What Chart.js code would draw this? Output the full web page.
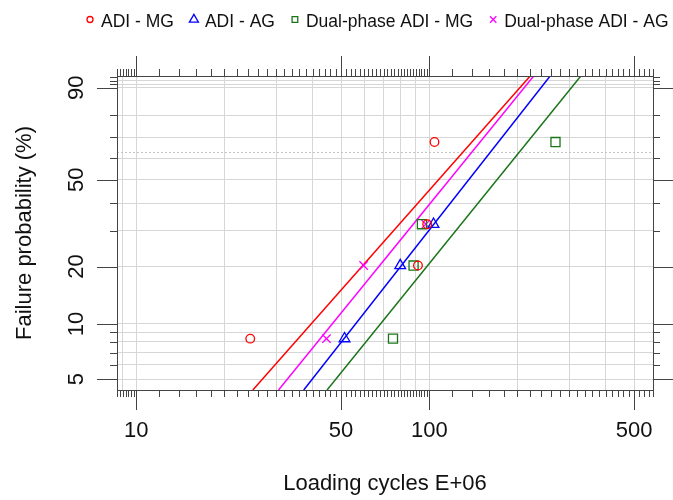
<!DOCTYPE html>
<html>
<head>
<meta charset="utf-8">
<script src="https://cdn.jsdelivr.net/npm/chart.js@4.4.0/dist/chart.umd.min.js"></script>
<style>
  html, body { margin: 0; padding: 0; background: #fff; }
</style>
</head>
<body>
<canvas id="myChart" width="673" height="500"></canvas>
<script>
// series as shown in the legend
const seriesNames = ['ADI - MG', 'ADI - AG', 'Dual-phase ADI - MG', 'Dual-phase ADI - AG'];
const seriesColors = ['#ff0000', '#0000ff', '#1a751a', '#ff00ff'];
const seriesMarkers = ['circle', 'triangle', 'rect', 'crossRot'];

// observed failures: loading cycles (E+06) and failure probability (%)
const adiMgCycles = [24.5, 91.5, 98.4, 104.2];
const adiMgProbs = [8.33, 20.24, 32.14, 67.86];
const adiAgCycles = [51.4, 79.6, 103.4];
const adiAgProbs = [8.33, 20.24, 32.14];
const dualMgCycles = [75.2, 88.4, 94.4, 269.6];
const dualMgProbs = [8.33, 20.24, 32.14, 67.86];
const dualAgCycles = [44.6, 59.7, 97.3];
const dualAgProbs = [8.33, 20.24, 32.14];

// fitted Weibull lines, cycles at the bottom and top of the plot
const lineProbs = [4.35, 93.2];
const adiMgLine = [25.0, 221];
const adiAgLine = [37.3, 258.5];
const dualMgLine = [44.8, 329];
const dualAgLine = [30.6, 227.2];

// axes
const xRange = [8.6, 580];
const yRange = [4.35, 93.2];
const xMajor = [10, 50, 100, 500];
const xGrid = [9, 10, 20, 30, 40, 50, 60, 70, 80, 90, 100, 200, 300, 400, 500];
const yMajor = [5, 10, 20, 50, 90];
const yGrid = [5, 6, 7, 8, 9, 10, 20, 30, 40, 50, 60, 70, 80, 90, 91, 92, 93];

const FONT = "'Liberation Sans', Arial, sans-serif";
const TEXT = '#111';

function weib(p) {
    return Math.log(-Math.log(1 - p / 100));
}

function toPoints(xs, ps) {
    return xs.map((x, i) => ({ x: x, y: weib(ps[i]) }));
}

function steps(from, to, step) {
    const out = [];
    for (let v = from; v <= to + 1e-9; v += step) out.push(Math.round(v * 100) / 100);
    return out;
}

// minor tick marks along the log axis
const xMinor = [].concat(steps(8.6, 9.8, 0.2), steps(12, 98, 2), steps(120, 580, 20))
    .filter(v => !xMajor.includes(v));
const yMinor = yGrid.filter(v => !yMajor.includes(v));

const pointSets = [
    [adiMgCycles, adiMgProbs, 4.3],
    [adiAgCycles, adiAgProbs, 6.2],
    [dualMgCycles, dualMgProbs, 6.4],
    [dualAgCycles, dualAgProbs, 5.9]
];
const lineSets = [adiMgLine, adiAgLine, dualMgLine, dualAgLine];

const datasets = [];
pointSets.forEach((s, i) => {
    datasets.push({
        label: seriesNames[i],
        data: toPoints(s[0], s[1]),
        showLine: false,
        pointStyle: seriesMarkers[i],
        pointRadius: s[2],
        pointBorderWidth: 1.3,
        pointBorderColor: seriesColors[i],
        pointBackgroundColor: 'rgba(0,0,0,0)'
    });
});
lineSets.forEach((l, i) => {
    datasets.push({
        label: seriesNames[i] + ' fit',
        data: toPoints(l, lineProbs),
        showLine: true,
        borderColor: seriesColors[i],
        borderWidth: 1.5,
        pointRadius: 0
    });
});

const legendRadius = [3, 5.2, 4, 4.5];

const lattice = {
    id: 'lattice',
    beforeDatasetsDraw(chart) {
        const c = chart.ctx, a = chart.chartArea;
        const y = Math.round(chart.scales.y.getPixelForValue(0)) + 0.5;
        c.save();
        c.strokeStyle = '#c4c4c4';
        c.lineWidth = 1;
        c.setLineDash([2, 2]);
        c.beginPath();
        c.moveTo(a.left, y);
        c.lineTo(a.right, y);
        c.stroke();
        c.restore();
    },
    afterDraw(chart) {
        const c = chart.ctx, a = chart.chartArea;
        const xs = chart.scales.x, ys = chart.scales.y;
        c.save();
        c.strokeStyle = '#444';
        c.lineWidth = 1;
        c.strokeRect(Math.round(a.left) + 0.5, Math.round(a.top) + 0.5,
            Math.round(a.right - a.left), Math.round(a.bottom - a.top));

        function xTicks(values, len) {
            values.forEach(v => {
                const px = Math.round(xs.getPixelForValue(v)) + 0.5;
                c.beginPath();
                c.moveTo(px, a.bottom); c.lineTo(px, a.bottom + len);
                c.moveTo(px, a.top); c.lineTo(px, a.top - len);
                c.stroke();
            });
        }
        function yTicks(values, len) {
            values.forEach(v => {
                const py = Math.round(ys.getPixelForValue(weib(v))) + 0.5;
                c.beginPath();
                c.moveTo(a.left, py); c.lineTo(a.left - len, py);
                c.moveTo(a.right, py); c.lineTo(a.right + len, py);
                c.stroke();
            });
        }
        xTicks(xMinor, 7);
        xTicks(xMajor, 20);
        yTicks(yMinor, 7);
        yTicks(yMajor, 20);

        // rotated y tick labels
        c.fillStyle = TEXT;
        c.font = '22px ' + FONT;
        c.textAlign = 'center';
        c.textBaseline = 'alphabetic';
        yMajor.forEach(p => {
            const py = ys.getPixelForValue(weib(p));
            c.save();
            c.translate(83, py);
            c.rotate(-Math.PI / 2);
            c.fillText(String(p), 0, 0);
            c.restore();
        });

        // legend
        c.font = '17.5px ' + FONT;
        c.textAlign = 'left';
        let lx = 90;
        seriesNames.forEach((name, i) => {
            c.strokeStyle = seriesColors[i];
            c.fillStyle = 'rgba(0,0,0,0)';
            c.lineWidth = 1.3;
            Chart.helpers.drawPoint(c, {
                pointStyle: seriesMarkers[i], radius: legendRadius[i], rotation: 0, borderWidth: 1.3
            }, lx, 19.5);
            c.fillStyle = TEXT;
            c.fillText(name, lx + 11, 26.5);
            lx += 11 + c.measureText(name).width + 20;
        });
        c.restore();
    }
};

new Chart(document.getElementById('myChart').getContext('2d'), {
    type: 'scatter',
    data: { datasets: datasets },
    options: {
        responsive: false,
        animation: false,
        layout: { padding: { top: 76, right: 20, left: 0, bottom: 0 } },
        plugins: { legend: { display: false }, tooltip: { enabled: false } },
        scales: {
            x: {
                type: 'logarithmic',
                min: xRange[0],
                max: xRange[1],
                afterBuildTicks: s => { s.ticks = xGrid.map(v => ({ value: v })); },
                afterFit: s => { s.height = 110; s.paddingLeft = 0; s.paddingRight = 0; },
                grid: { color: '#d6d6d6', lineWidth: 1, drawTicks: false },
                border: { display: false },
                ticks: {
                    autoSkip: false, maxRotation: 0, padding: 28, color: TEXT,
                    font: { family: FONT, size: 22 },
                    callback: v => xMajor.includes(v) ? String(v) : ''
                },
                title: {
                    display: true, text: 'Loading cycles E+06', color: TEXT,
                    font: { family: FONT, size: 22 }, padding: { top: 0, bottom: 3 }
                }
            },
            y: {
                type: 'linear',
                min: weib(yRange[0]),
                max: weib(yRange[1]),
                afterBuildTicks: s => { s.ticks = yGrid.map(p => ({ value: weib(p) })); },
                afterFit: s => { s.width = 117; s.paddingTop = 0; s.paddingBottom = 0; },
                grid: { color: '#d6d6d6', lineWidth: 1, drawTicks: false },
                border: { display: false },
                ticks: { display: false },
                title: {
                    display: true, text: 'Failure probability (%)', color: TEXT,
                    font: { family: FONT, size: 22 }, padding: { top: 12, bottom: 0 }
                }
            }
        }
    },
    plugins: [lattice]
});
</script>
</body>
</html>
